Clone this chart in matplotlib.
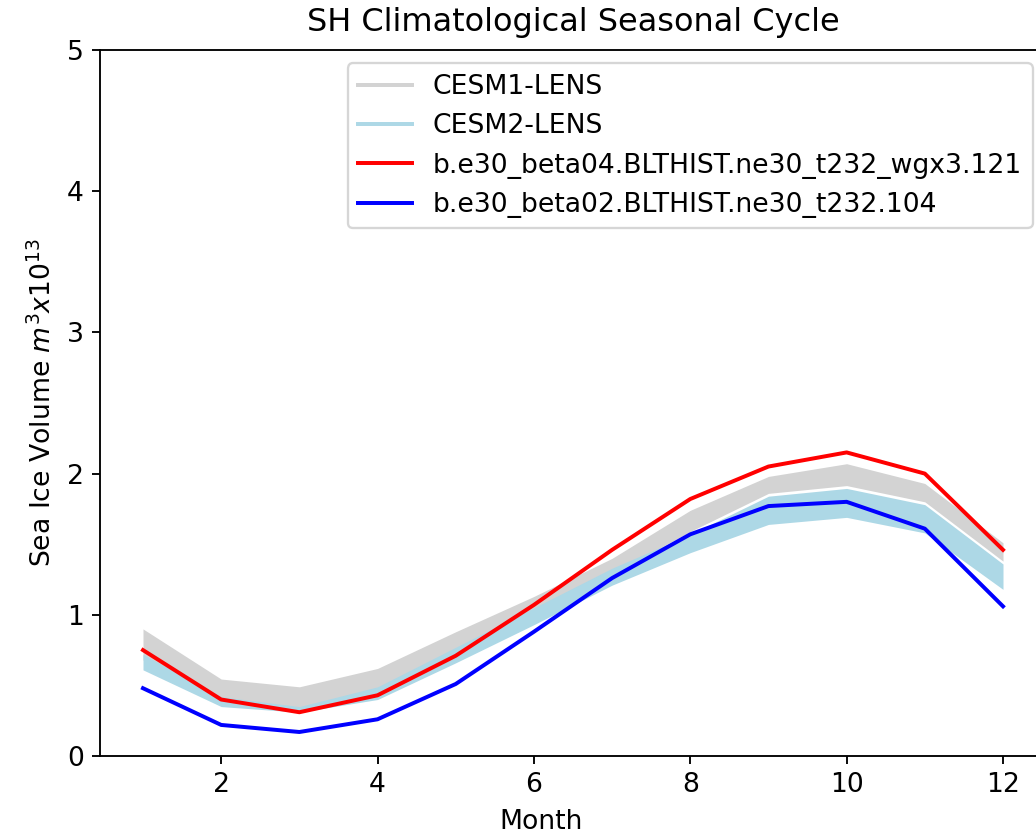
import numpy as np
import matplotlib.pyplot as plt
from matplotlib.lines import Line2D

months = np.arange(1, 13)

# CESM1-LENS ensemble envelope
cesm1_hi = [0.90, 0.545, 0.49, 0.62, 0.88, 1.13, 1.40, 1.74, 1.98, 2.07, 1.93, 1.51]
cesm1_lo = [0.68, 0.39, 0.32, 0.46, 0.73, 1.01, 1.29, 1.59, 1.86, 1.915, 1.80, 1.38]
# CESM2-LENS ensemble envelope
cesm2_hi = [0.72, 0.42, 0.35, 0.49, 0.77, 1.05, 1.33, 1.57, 1.84, 1.895, 1.78, 1.36]
cesm2_lo = [0.61, 0.35, 0.31, 0.40, 0.66, 0.93, 1.21, 1.44, 1.64, 1.69, 1.58, 1.18]

beta04 = [0.75, 0.40, 0.31, 0.43, 0.71, 1.07, 1.46, 1.82, 2.05, 2.15, 2.00, 1.46]
beta02 = [0.48, 0.22, 0.17, 0.26, 0.51, 0.88, 1.26, 1.57, 1.77, 1.80, 1.61, 1.06]

labels = ['CESM1-LENS', 'CESM2-LENS',
          'b.e30_beta04.BLTHIST.ne30_t232_wgx3.121',
          'b.e30_beta02.BLTHIST.ne30_t232.104']

plt.rcParams['font.size'] = 11.4
plt.rcParams['lines.linewidth'] = 1.7

fig = plt.figure(figsize=(1036 / 168, 834 / 168), dpi=168)
ax = fig.add_axes([100 / 1036, 1 - 756 / 834, 946 / 1036, 706 / 834])

ax.fill_between(months, cesm1_lo, cesm1_hi, color='lightgray', lw=0)
ax.fill_between(months, cesm2_lo, cesm2_hi, color='lightblue', lw=0)
ax.plot(months, beta04, color='red')
ax.plot(months, beta02, color='blue')

ax.set_ylim(0, 5)
ax.set_title('SH Climatological Seasonal Cycle', fontsize=13.7, pad=8)
ax.set_xlabel('Month')
ax.set_ylabel('Sea Ice Volume $m^3x10^{13}$')
ax.xaxis.set_label_coords(0.466, -0.075)

handles = [Line2D([], [], color='lightgray'),
           Line2D([], [], color='lightblue'),
           Line2D([], [], color='red'),
           Line2D([], [], color='blue')]
ax.legend(handles, labels, loc='upper right')

fig.savefig('out.png', dpi=168)
